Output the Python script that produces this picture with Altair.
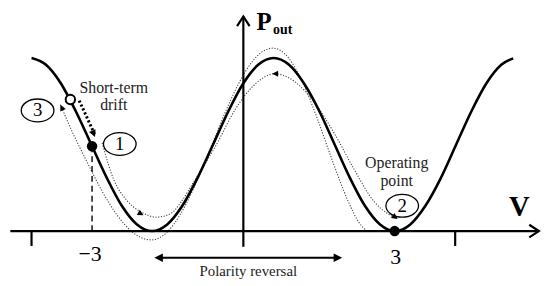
import altair as alt
import pandas as pd

SERIF = "Liberation Serif, Times New Roman, DejaVu Serif, serif"

# ---- main transfer curve P_out(V) ----
main_v = [-4.20, -3.92, -3.62, -3.32, -3.015, -2.71, -2.41, -2.11, -1.81, -1.51,
          -1.21, -0.905, -0.60, -0.30, 0.0, 0.30, 0.60, 0.90, 1.20, 1.51,
          1.81, 2.11, 2.41, 2.71, 3.01, 3.31, 3.61, 3.92, 4.22, 4.52,
          4.82, 5.12, 5.35]
main_p = [1.0, 0.962, 0.854, 0.691, 0.5, 0.309, 0.146, 0.038, 0.0, 0.038,
          0.146, 0.309, 0.5, 0.691, 0.854, 0.962, 1.0, 0.962, 0.854, 0.691,
          0.5, 0.309, 0.146, 0.038, 0.0, 0.038, 0.146, 0.309, 0.5, 0.691,
          0.854, 0.962, 0.998]

# ---- inner dotted curve ----
inner_v = [-2.80, -2.57, -2.31, -1.98, -1.73, -1.43, -1.24, -0.98, -0.55, -0.16,
           0.24, 0.63, 1.02, 1.41, 1.80, 2.20, 2.59, 2.88, 3.04]
inner_p = [0.509, 0.297, 0.177, 0.103, 0.080, 0.103, 0.166, 0.286, 0.491, 0.703,
           0.851, 0.909, 0.863, 0.743, 0.566, 0.354, 0.171, 0.097, 0.074]

# ---- outer dotted curve ----
outer_v = [-3.627, -3.392, -3.098, -2.804, -2.510, -2.216, -2.020, -1.824, -1.627, -1.392,
           -1.137, -0.843, -0.549, -0.255, 0.039, 0.333, 0.588, 0.882, 1.176, 1.471,
           1.765, 2.059, 2.294, 2.451]
outer_p = [0.73, 0.573, 0.398, 0.232, 0.095, -0.002, -0.039, -0.051, -0.033, 0.034,
           0.156, 0.342, 0.552, 0.755, 0.921, 1.027, 1.057, 1.005, 0.859, 0.646,
           0.407, 0.185, 0.049, 0.0]

# ---- axes / rules ----
rule_v = [-4.62, 0.0, -4.2, 4.2]
rule_v2 = [5.86, 0.0, -4.2, 4.2]
rule_p = [0.0, -0.091, 0.0, 0.0]
rule_p2 = [0.0, 1.24, -0.086, -0.086]

# polarity reversal double arrow
pol_v = [-1.70]
pol_v2 = [1.90]
pol_p = [-0.154]

# dashed marker at V = -3
dash_v = [-3.0]
dash_p = [0.49]
dash_p2 = [0.0]

# short-term drift arrow (3 -> 1)
drift_v = [-3.255]
drift_v2 = [-2.95]
drift_p = [0.754]
drift_p2 = [0.56]

# open arrowheads (axes)
open_v = [5.86, 0.0]
open_p = [0.0, 1.24]
open_ang = [0, 270]

# filled arrowheads
head_v = [-1.765, 1.96, -2.941, -3.627, -1.98, 0.57, 3.06]
head_p = [-0.154, -0.154, 0.543, 0.73, 0.091, 0.909, 0.07]
head_ang = [180, 0, 67, 245, 30, 180, 35]
head_size = [300, 300, 200, 150, 150, 150, 150]

# points 1, 2 (filled) and 3 (open)
dot_v = [-3.0, 3.0]
dot_p = [0.49, 0.0]
open_dot_v = [-3.43]
open_dot_p = [0.76]

# circled labels
circ_v = [-4.08, -2.45, 3.15]
circ_p = [0.697, 0.503, 0.146]
circ_t = ["3", "1", "2"]

# annotation texts
note_t = ["Short-term", "drift", "Operating", "point", "Polarity reversal"]
note_v = [-2.57, -2.57, 3.04, 3.04, 0.098]
note_p = [0.829, 0.726, 0.394, 0.286, -0.229]
note_size = [16, 16, 16, 16, 15]

tick_t = ["\u22123", "3"]
tick_v = [-3.04, 3.02]
tick_p = [-0.134, -0.149]

xs = alt.Scale(domain=[-4.6666, 5.9216], nice=False, zero=False)
ys = alt.Scale(domain=[-0.2971, 1.28], nice=False, zero=False)


def X(f):
    return alt.X(f, type="quantitative", scale=xs, axis=None)


def Y(f):
    return alt.Y(f, type="quantitative", scale=ys, axis=None)


main_df = pd.DataFrame({"v": main_v, "p": main_p})
inner_df = pd.DataFrame({"v": inner_v, "p": inner_p})
outer_df = pd.DataFrame({"v": outer_v, "p": outer_p})

main_line = alt.Chart(main_df).mark_line(
    color="black", strokeWidth=2.6, interpolate="monotone"
).encode(x=X("v"), y=Y("p"))

inner_line = alt.Chart(inner_df).mark_line(
    color="#444", strokeWidth=1.1, strokeDash=[1.2, 1.6], interpolate="monotone"
).encode(x=X("v"), y=Y("p"))

outer_line = alt.Chart(outer_df).mark_line(
    color="#444", strokeWidth=1.1, strokeDash=[1.2, 1.6], interpolate="monotone"
).encode(x=X("v"), y=Y("p"))

rules = alt.Chart(pd.DataFrame({"v": rule_v, "v2": rule_v2, "p": rule_p, "p2": rule_p2})).mark_rule(
    color="black", strokeWidth=2.2
).encode(x=X("v"), x2="v2", y=Y("p"), y2="p2")

pol = alt.Chart(pd.DataFrame({"v": pol_v, "v2": pol_v2, "p": pol_p})).mark_rule(
    color="black", strokeWidth=2
).encode(x=X("v"), x2="v2", y=Y("p"))

dash = alt.Chart(pd.DataFrame({"v": dash_v, "p": dash_p, "p2": dash_p2})).mark_rule(
    color="black", strokeWidth=1.4, strokeDash=[6, 4]
).encode(x=X("v"), y=Y("p"), y2="p2")

drift = alt.Chart(pd.DataFrame({"v": drift_v, "v2": drift_v2, "p": drift_p, "p2": drift_p2})).mark_rule(
    color="black", strokeWidth=3, strokeDash=[2.2, 2.2]
).encode(x=X("v"), x2="v2", y=Y("p"), y2="p2")

open_heads = alt.Chart(pd.DataFrame({"v": open_v, "p": open_p, "a": open_ang})).mark_point(
    shape="M-1,-0.65L0,0L-1,0.65", filled=False, color="black", strokeWidth=2.2,
    size=380, opacity=1
).encode(x=X("v"), y=Y("p"), angle=alt.Angle("a:Q", scale=None))

heads = alt.Chart(pd.DataFrame({"v": head_v, "p": head_p, "a": head_ang, "s": head_size})).mark_point(
    shape="M0,0L-1,-0.5L-1,0.5Z", filled=True, color="black", opacity=1
).encode(x=X("v"), y=Y("p"), angle=alt.Angle("a:Q", scale=None),
         size=alt.Size("s:Q", scale=None))

dots = alt.Chart(pd.DataFrame({"v": dot_v, "p": dot_p})).mark_point(
    shape="circle", filled=True, color="black", size=110, opacity=1
).encode(x=X("v"), y=Y("p"))

open_dot = alt.Chart(pd.DataFrame({"v": open_dot_v, "p": open_dot_p})).mark_point(
    shape="circle", filled=True, fill="white", stroke="black", strokeWidth=2,
    size=90, opacity=1
).encode(x=X("v"), y=Y("p"))

circ_df = pd.DataFrame({"v": circ_v, "p": circ_p, "t": circ_t})
ellipses = alt.Chart(circ_df).mark_point(
    shape="M-1,0A1,0.7,0,1,1,1,0A1,0.7,0,1,1,-1,0Z", filled=False, color="black",
    strokeWidth=1.3, size=1089, opacity=1
).encode(x=X("v"), y=Y("p"))
circ_text = alt.Chart(circ_df).mark_text(
    font=SERIF, fontSize=19, color="black", align="center", baseline="middle"
).encode(x=X("v"), y=Y("p"), text="t:N")

notes = alt.Chart(pd.DataFrame({"v": note_v, "p": note_p, "t": note_t, "s": note_size})).mark_text(
    font=SERIF, color="#222", align="center", baseline="middle"
).encode(x=X("v"), y=Y("p"), text="t:N", size=alt.Size("s:Q", scale=None))

ticks = alt.Chart(pd.DataFrame({"v": tick_v, "p": tick_p, "t": tick_t})).mark_text(
    font=SERIF, fontSize=22, color="black", align="center", baseline="middle"
).encode(x=X("v"), y=Y("p"), text="t:N")

v_label = alt.Chart(pd.DataFrame({"v": [5.47], "p": [0.137], "t": ["V"]})).mark_text(
    font=SERIF, fontSize=29, fontWeight="bold", color="black", align="center", baseline="middle"
).encode(x=X("v"), y=Y("p"), text="t:N")

p_label = alt.Chart(pd.DataFrame({"v": [0.41], "p": [1.205], "t": ["P"]})).mark_text(
    font=SERIF, fontSize=25, fontWeight="bold", color="black", align="center", baseline="middle"
).encode(x=X("v"), y=Y("p"), text="t:N")

out_label = alt.Chart(pd.DataFrame({"v": [0.78], "p": [1.16], "t": ["out"]})).mark_text(
    font=SERIF, fontSize=14, fontWeight="bold", color="black", align="center", baseline="middle"
).encode(x=X("v"), y=Y("p"), text="t:N")

chart = alt.layer(
    outer_line, inner_line, rules, pol, dash, main_line, drift,
    open_heads, heads, dots, open_dot, ellipses, circ_text,
    notes, ticks, v_label, p_label, out_label
).properties(
    width=540, height=276,
    autosize=alt.AutoSizeParams(type="none"),
    padding=0,
).configure_view(stroke=None)

chart.save("out.html", embed_options={"renderer": "svg", "actions": False})
